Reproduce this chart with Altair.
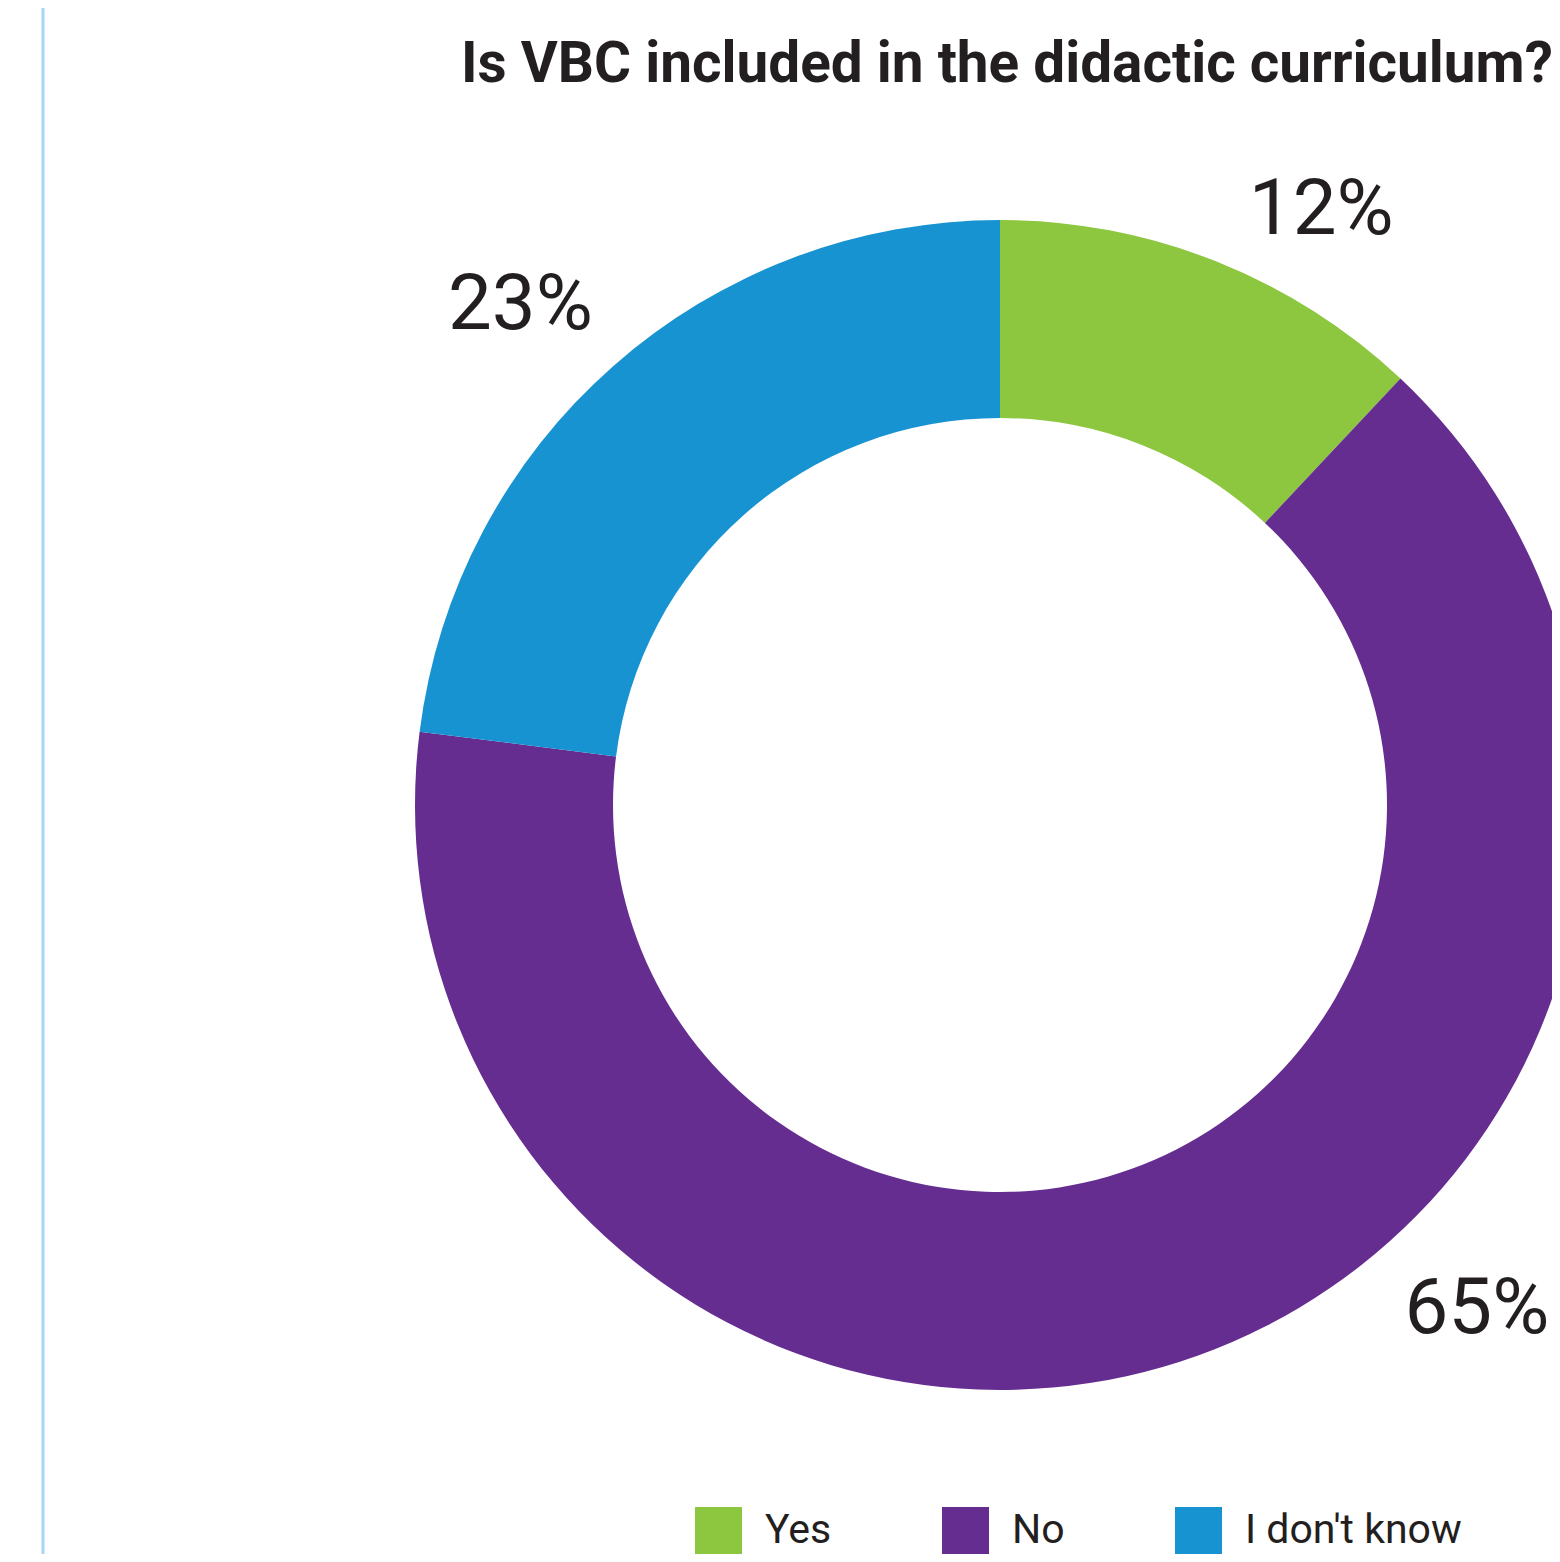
import altair as alt
import pandas as pd

# ---- data ----
categories = ["Yes", "No", "I don't know"]
shares = [12, 65, 23]
labels = ["12%", "65%", "23%"]
colors = ["#8dc63f", "#662d91", "#1793d1"]
title_text = "Is VBC included in the didactic curriculum?"

# ---- layout (not data) ----
label_angles = [28.1, 136.2, 316.6]  # where each percentage label sits, degrees clockwise from top
label_radii = [682, 689, 698]        # distance of each label from the donut centre, px
W, H = 1544, 1546
CX, CY = 992, 797
R_OUT, R_IN = 585, 387
TXT = "#231f20"
FONT = "Roboto, sans-serif"

df = pd.DataFrame({"category": categories, "share": shares, "order": list(range(len(categories)))})
lab = pd.DataFrame({"label": labels, "angle": label_angles, "r": label_radii})

line = alt.Chart(pd.DataFrame({"a": [0]})).mark_rule(color="#a8d4f5", strokeWidth=3).encode(
    x=alt.value(35), y=alt.value(0), y2=alt.value(H)
)

title = alt.Chart(pd.DataFrame({"t": [title_text]})).mark_text(
    font=FONT, fontWeight="bold", fontSize=56.7, align="left", baseline="alphabetic", color=TXT
).encode(text="t:N", x=alt.value(453), y=alt.value(74))

arcs = alt.Chart(df).mark_arc(radius=R_OUT, radius2=R_IN).encode(
    theta=alt.Theta("share:Q", stack=True),
    color=alt.Color(
        "category:N",
        sort=categories,
        scale=alt.Scale(domain=categories, range=colors),
        legend=alt.Legend(
            title=None,
            orient="none",
            legendX=687,
            legendY=1499,
            direction="horizontal",
            symbolType="square",
            symbolSize=2209,
            symbolStrokeWidth=0,
            symbolOpacity=1,
            labelFont=FONT,
            labelFontSize=41,
            labelColor=TXT,
            labelOffset=23,
            labelLimit=500,
            columnPadding=110,
            padding=0,
        ),
    ),
    order=alt.Order("order:Q"),
    x=alt.value(CX),
    y=alt.value(CY),
)

texts = alt.Chart(lab).mark_text(
    font=FONT, fontSize=78, color=TXT, align="center", baseline="middle", dy=8
).encode(
    theta=alt.Theta("angle:Q", stack=False, scale=alt.Scale(domain=[0, 360], range=[0, 6.283185307179586])),
    radius=alt.Radius("r:Q", scale=alt.Scale(type="linear", domain=[0, 1000], range=[0, 1000])),
    text="label:N",
    x=alt.value(CX),
    y=alt.value(CY),
)

chart = (
    alt.layer(line, title, arcs, texts)
    .resolve_scale(theta="independent")
    .properties(width=W, height=H, autosize=alt.AutoSizeParams(type="none"), padding=0, background="white")
    .configure_view(strokeWidth=0)
)

chart.save("out.html", embed_options={"renderer": "svg", "actions": False})
